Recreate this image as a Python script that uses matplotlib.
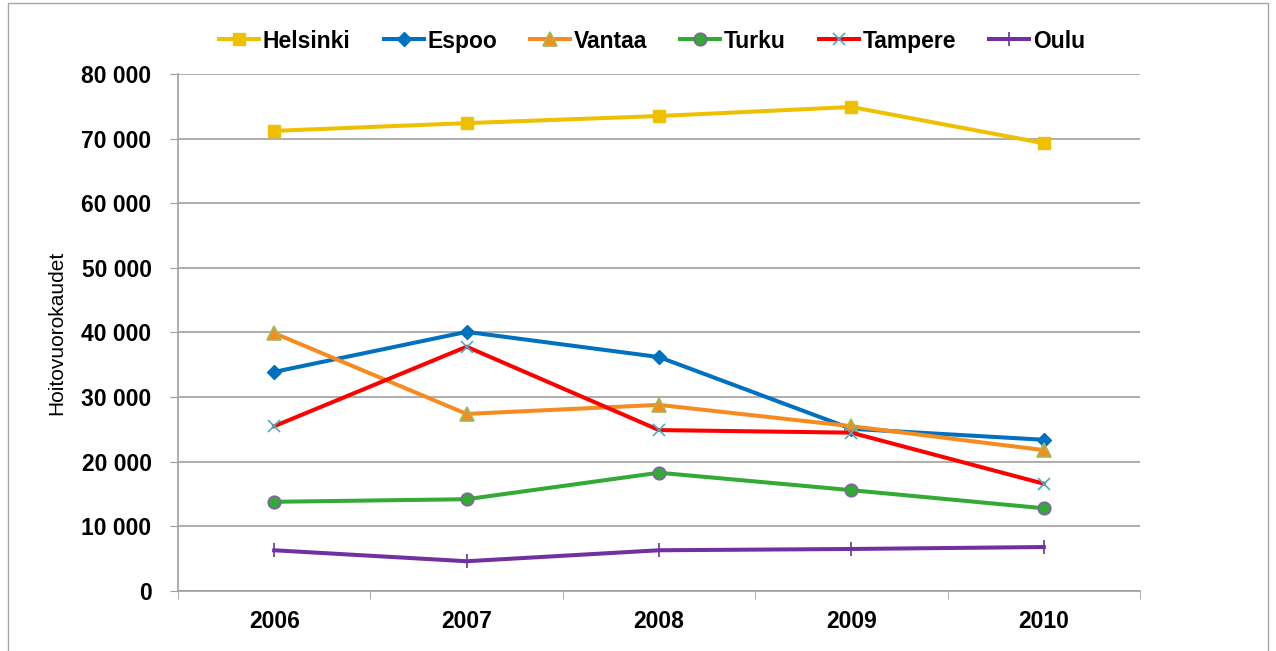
import matplotlib
matplotlib.use("Agg")
import matplotlib.pyplot as plt
from matplotlib.patches import Rectangle
from matplotlib.ticker import FuncFormatter, FixedLocator

plt.rcParams['font.family'] = ['Liberation Sans', 'DejaVu Sans']

years = ["2006", "2007", "2008", "2009", "2010"]
helsinki = [71200, 72400, 73500, 74900, 69300]
espoo = [33900, 40100, 36200, 25100, 23400]
vantaa = [39900, 27400, 28800, 25500, 21800]
turku = [13800, 14200, 18300, 15600, 12800]
tampere = [25500, 37800, 24900, 24500, 16600]
oulu = [6300, 4600, 6300, 6500, 6800]

series = [
    ("Helsinki", helsinki, dict(color="#EEC000", marker="s", ms=9, mfc="#EEC000", mec="#EEC000", mew=1)),
    ("Espoo", espoo, dict(color="#0070C0", marker="D", ms=7, mfc="#0070C0", mec="#0070C0", mew=1)),
    ("Vantaa", vantaa, dict(color="#F68B1F", marker="^", ms=10, mfc="#F68B1F", mec="#9BBB59", mew=1.2)),
    ("Turku", turku, dict(color="#33AA33", marker="o", ms=9, mfc="#33AA33", mec="#8064A2", mew=1.2)),
    ("Tampere", tampere, dict(color="#FF0000", marker="x", ms=8, mfc="#4BACC6", mec="#4BACC6", mew=1.2)),
    ("Oulu", oulu, dict(color="#7030A0", marker="|", ms=10, mfc="#7030A0", mec="#7030A0", mew=1.2)),
]

fig = plt.figure(figsize=(12.76, 6.51), dpi=100)
ax = fig.add_axes([0.1395, 0.0922, 0.7539, 0.7941])

# outer frame
fig.patches.append(Rectangle((8/1276, -0.01), (1268-8)/1276, 1.0 - (-0.01) - 3/651,
                             transform=fig.transFigure, fill=False,
                             edgecolor="#A6A6A6", linewidth=1))

x = list(range(len(years)))
for name, vals, st in series:
    ax.plot(x, vals, label=name, linewidth=2.9, **st)

ax.set_xlim(-0.5, 4.5)
ax.set_ylim(0, 80000)
ax.set_yticks(range(0, 80001, 10000))
ax.yaxis.set_major_formatter(FuncFormatter(lambda v, p: f"{int(v):,}".replace(",", " ")))
ax.set_xticks(x)
ax.set_xticklabels(years)
ax.xaxis.set_minor_locator(FixedLocator([-0.5, 0.5, 1.5, 2.5, 3.5, 4.5]))
ax.tick_params(axis="x", which="major", length=0, pad=14)
ax.tick_params(axis="x", which="minor", length=6, color="#A0A0A0", direction="out")
ax.tick_params(axis="y", length=6, color="#A0A0A0", direction="out", pad=13)
for lab in ax.get_xticklabels() + ax.get_yticklabels():
    lab.set_fontsize(16.5)
    lab.set_fontweight("bold")

ax.grid(axis="y", color="#A0A0A0", linewidth=1.2)
ax.set_axisbelow(True)
for s in ["top", "right"]:
    ax.spines[s].set_visible(False)
for s in ["left", "bottom"]:
    ax.spines[s].set_color("#A0A0A0")
    ax.spines[s].set_linewidth(1.2)

ax.set_ylabel("Hoitovuorokaudet", fontsize=15)
ax.yaxis.set_label_coords(-0.116, 0.5)

leg = fig.legend(loc="center", bbox_to_anchor=(0.511, 0.937), ncol=6, frameon=False,
                 prop={"weight": "bold", "size": 16.5}, handlelength=1.75,
                 columnspacing=1.45, handletextpad=0.15)

fig.savefig("out.png", dpi=100)
